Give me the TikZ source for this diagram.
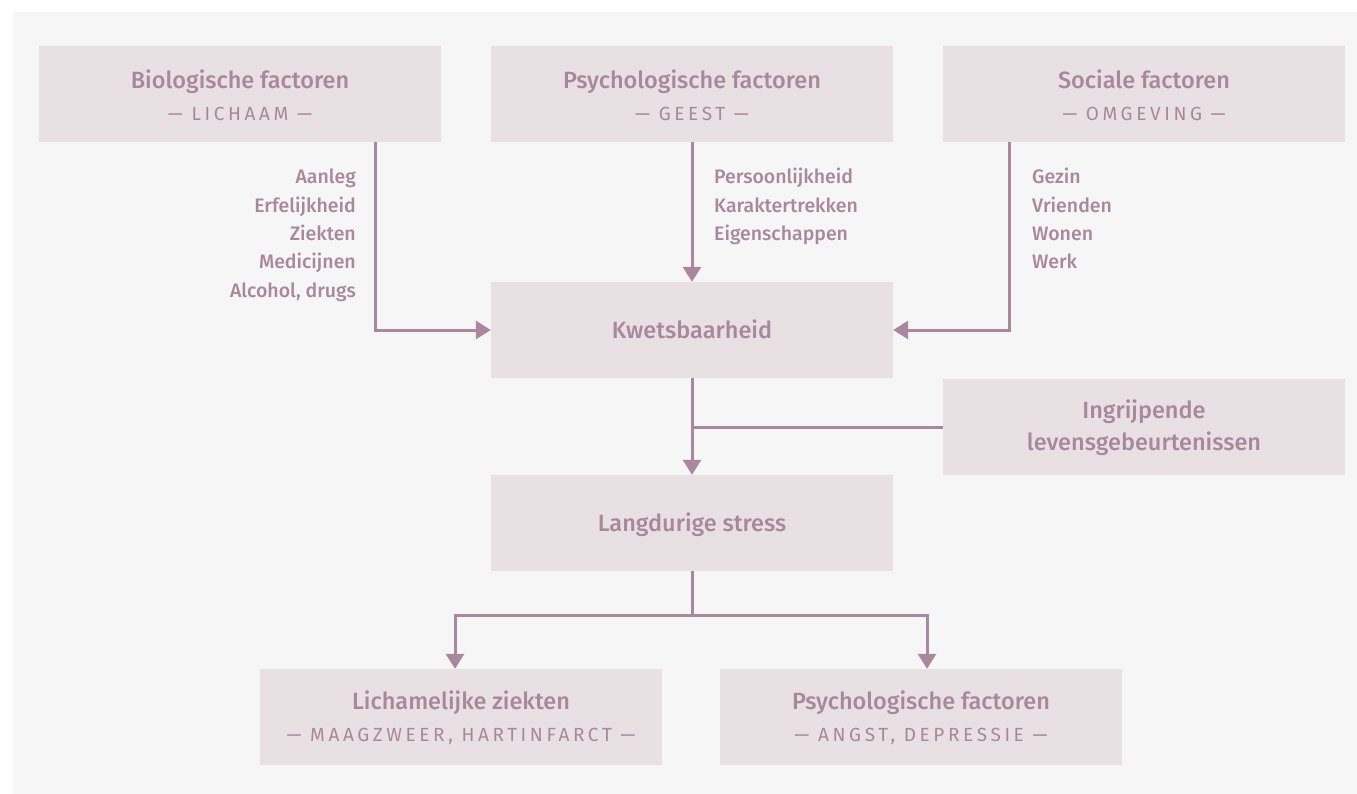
\documentclass[tikz,border=0pt]{standalone}
\usepackage{fontspec}
\setmainfont{Fira Sans}
\newfontfamily\medfont{Fira Sans Medium}
\usetikzlibrary{arrows.meta}
\definecolor{ink}{HTML}{A9879E}
\definecolor{boxfill}{HTML}{E9E0E4}
\definecolor{panelbg}{HTML}{F6F6F6}
\tikzset{
  box/.style={fill=boxfill, minimum width=402pt, minimum height=96pt, inner sep=0pt},
  ttl/.style={text=ink, inner sep=0pt, anchor=base, font=\medfont\fontsize{23.5}{32}\selectfont},
  sub/.style={text=ink, inner sep=0pt, anchor=base, font=\addfontfeature{LetterSpace=19}\fontsize{19}{22}\selectfont},
  lst/.style={text=ink, inner sep=0pt, font=\medfont\fontsize{19.5}{28.3}\selectfont},
  arr/.style={draw=ink, line width=3pt, -{Triangle[width=18pt,length=15pt]}},
  ln/.style={draw=ink, line width=3pt},
}
\begin{document}
\begin{tikzpicture}[x=1pt,y=-1pt]
\useasboundingbox (0,0) rectangle (1357,794);
\fill[panelbg] (13,12) rectangle (1357,794);
% boxes
\node[box] (bio) at (240,94) {};
\node[box] (psy) at (692,94) {};
\node[box] (soc) at (1144,94) {};
\node[box] (kw) at (692,330) {};
\node[box] (ing) at (1144,427) {};
\node[box] (st) at (692,523) {};
\node[box] (lich) at (461,717) {};
\node[box] (psyb) at (921,717) {};
% titles
\node[ttl] (bioT) at ([yshift=5pt]bio.center) {Biologische factoren};
\node[sub] (bioS) at ([yshift=-27pt]bio.center) {— LICHAAM —};
\node[ttl] (psyT) at ([yshift=5pt]psy.center) {Psychologische factoren};
\node[sub] (psyS) at ([yshift=-27pt]psy.center) {— GEEST —};
\node[ttl] (socT) at ([yshift=5pt]soc.center) {Sociale factoren};
\node[sub] (socS) at ([yshift=-27pt]soc.center) {— OMGEVING —};
\node[ttl] (kwT) at ([yshift=-8pt]kw.center) {Kwetsbaarheid};
\node[ttl] (ingT1) at ([yshift=9pt]ing.center) {Ingrijpende};
\node[ttl] (ingT2) at ([yshift=-23pt]ing.center) {levensgebeurtenissen};
\node[ttl] (stT) at ([yshift=-8pt]st.center) {Langdurige stress};
\node[ttl] (lichT) at ([yshift=8pt]lich.center) {Lichamelijke ziekten};
\node[sub] (lichS) at ([yshift=-24pt]lich.center) {— MAAGZWEER, HARTINFARCT —};
\node[ttl] (psybT) at ([yshift=8pt]psyb.center) {Psychologische factoren};
\node[sub] (psybS) at ([yshift=-24pt]psyb.center) {— ANGST, DEPRESSIE —};
% lists (base anchor = baseline of last line)
\node[lst, align=right, anchor=base east] (bioL) at (356,297.2) {Aanleg\\Erfelijkheid\\Ziekten\\Medicijnen\\Alcohol, drugs};
\node[lst, align=left, anchor=base west] (psyL) at (714,240.6) {Persoonlijkheid\\Karaktertrekken\\Eigenschappen};
\node[lst, align=left, anchor=base west] (socL) at (1032,268.9) {Gezin\\Vrienden\\Wonen\\Werk};
% connectors
\draw[arr] ([xshift=135pt]bio.south) |- (kw.west);
\draw[arr] (psy.south) -- (kw.north);
\draw[arr] ([xshift=-135pt]soc.south) |- (kw.east);
\draw[arr] (kw.south) -- (st.north);
\draw[ln] (ing.west) -- (ing.west -| kw.south);
\coordinate (split) at ([yshift=-44pt]st.south);
\draw[ln] (st.south) -- (split);
\draw[arr] (split) -| ([xshift=-6pt]lich.north);
\draw[arr] (split) -| ([xshift=6pt]psyb.north);
\end{tikzpicture}
\end{document}
